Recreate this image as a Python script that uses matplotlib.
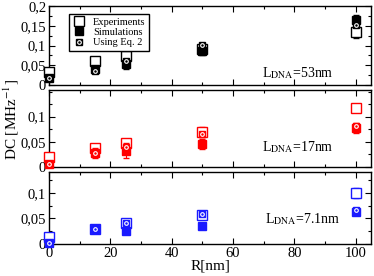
import matplotlib
matplotlib.use('Agg')
import matplotlib.pyplot as plt
from matplotlib.ticker import MultipleLocator, FixedLocator, FuncFormatter
from matplotlib.lines import Line2D

plt.rcParams['font.family'] = ['Liberation Serif', 'DejaVu Serif']
plt.rcParams['mathtext.fontset'] = 'stix'

# data: R in nm, DC in MHz^-1
R = [0, 15, 25, 50, 100]

exp_53 = [0.033, 0.060, 0.073, 0.092, 0.135]
sim_53 = [0.018, 0.040, 0.053, 0.085, 0.165]
eq2_53 = [0.018, 0.035, 0.060, 0.102, 0.152]
err_exp_53 = [0.006, 0.010, 0.010, 0.008, 0.015]
err_sim_53 = [0.004, 0.008, 0.012, 0.010, 0.012]

exp_17 = [0.020, 0.038, 0.048, 0.070, 0.117]
sim_17 = [0.006, 0.028, 0.032, 0.046, 0.078]
eq2_17 = [0.006, 0.028, 0.040, 0.066, 0.082]
err_exp_17 = [0.004, 0.005, 0.006, 0.010, 0.008]
err_sim_17 = [0.003, 0.010, 0.015, 0.010, 0.010]

exp_7 = [0.014, 0.030, 0.041, 0.057, 0.100]
sim_7 = [0.002, 0.030, 0.025, 0.035, 0.062]
eq2_7 = [0.002, 0.030, 0.042, 0.058, 0.066]
err_exp_7 = [0.003, 0.003, 0.004, 0.005, 0.010]
err_sim_7 = [0.002, 0.003, 0.004, 0.004, 0.006]

labels = ['53nm', '17nm', '7.1nm']
colors = ['black', '#ff0000', '#1a1aff']

fig = plt.figure(figsize=(3.74, 2.76), dpi=100)
left, width = 49 / 374, 322 / 374
ax1 = fig.add_axes([left, 1 - 85 / 276, width, 79 / 276])
ax2 = fig.add_axes([left, 1 - 167 / 276, width, 77 / 276])
ax3 = fig.add_axes([left, 1 - 244 / 276, width, 72 / 276])

panels = [
    (ax1, exp_53, sim_53, eq2_53, err_exp_53, err_sim_53, (0, 0.2), [0, 0.05, 0.1, 0.15, 0.2], (0.66, 0.15)),
    (ax2, exp_17, sim_17, eq2_17, err_exp_17, err_sim_17, (0, 0.153), [0, 0.05, 0.1], (0.66, 0.26)),
    (ax3, exp_7, sim_7, eq2_7, err_exp_7, err_sim_7, (0, 0.141), [0, 0.05, 0.1], (0.67, 0.34)),
]

def comma(v, pos):
    if v == 0:
        return '0'
    return ('%g' % v).replace('.', ',')

for i, (ax, ex, si, eq, ee, es, ylim, yt, tpos) in enumerate(panels):
    c = colors[i]
    ax.errorbar(R, ex, yerr=ee, fmt='s', ms=6.5, mfc='white', mec=c, mew=1.0,
                ecolor=c, elinewidth=0.8, capsize=2.2, capthick=0.8, clip_on=False, zorder=3)
    ax.errorbar(R, si, yerr=es, fmt='s', ms=5.5, mfc=c, mec=c, mew=1.0,
                ecolor=c, elinewidth=0.8, capsize=2.2, capthick=0.8, clip_on=False, zorder=4)
    # "Using Eq. 2": filled square with a white ring inside
    ax.plot(R, eq, 's', ms=5, mfc=c, mec=c, clip_on=False, zorder=5)
    ax.plot(R, eq, 'o', ms=2.6, mfc='none', mec='white', mew=0.8, clip_on=False, zorder=6)

    ax.set_xlim(0, 105)
    ax.set_ylim(*ylim)
    ax.yaxis.set_major_locator(FixedLocator(yt))
    ax.yaxis.set_minor_locator(MultipleLocator(0.025))
    ax.yaxis.set_major_formatter(FuncFormatter(comma))
    ax.xaxis.set_major_locator(MultipleLocator(20))
    ax.xaxis.set_minor_locator(MultipleLocator(10))
    ax.tick_params(which='both', direction='in', top=True, right=True, labelsize=10.5, pad=2)
    ax.tick_params(which='major', length=4, width=0.8)
    ax.tick_params(which='minor', length=2.5, width=0.8)
    for s in ax.spines.values():
        s.set_linewidth(1.0)
    if ax is not ax3:
        ax.tick_params(labelbottom=False)
    ax.text(tpos[0], tpos[1], r'L$_{\rm DNA}$=' + labels[i], transform=ax.transAxes,
            fontsize=10, va='center', ha='left')

h_exp = Line2D([], [], ls='none', marker='s', ms=6.5, mfc='white', mec='black', mew=1.0)
h_sim = Line2D([], [], ls='none', marker='s', ms=5.5, mfc='black', mec='black')
h_eq2 = (Line2D([], [], ls='none', marker='s', ms=5, mfc='black', mec='black'),
         Line2D([], [], ls='none', marker='o', ms=2.6, mfc='none', mec='white', mew=0.8))
leg = ax1.legend([h_exp, h_sim, h_eq2], ['Experiments', 'Simulations', 'Using Eq. 2'],
                 loc='upper left', bbox_to_anchor=(0.045, 0.97), fontsize=7.5,
                 frameon=True, fancybox=False, edgecolor='black', handlelength=1.2,
                 handletextpad=0.8, borderpad=0.35, labelspacing=0.1, framealpha=1)
leg.get_frame().set_linewidth(1.0)

ax3.set_xlabel('R[nm]', fontsize=11, labelpad=0)
fig.text(0.03, 1 - 120 / 276, r'DC [MHz$^{-1}$]', rotation=90, fontsize=11,
         ha='center', va='center')

fig.savefig('out.png', dpi=100)
